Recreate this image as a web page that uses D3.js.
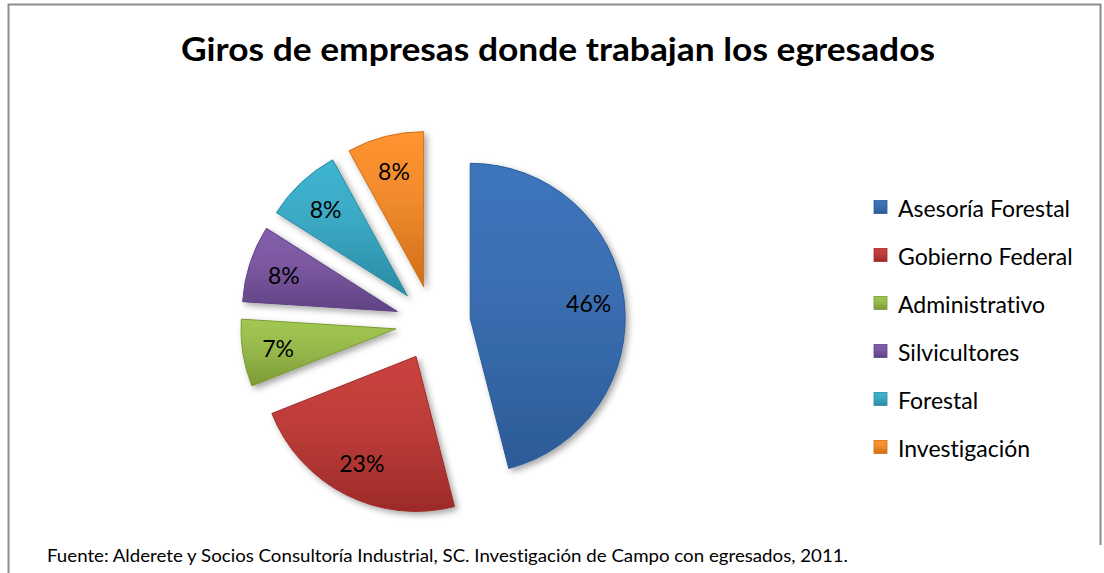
<!DOCTYPE html>
<html>
<head>
<meta charset="utf-8">
<script src="https://cdn.jsdelivr.net/npm/d3@7"></script>
<style>
  html, body { margin: 0; padding: 0; background: #fff; }
  svg { display: block; }
  text { font-variant-ligatures: none; font-feature-settings: "liga" 0, "clig" 0; }
</style>
</head>
<body>
<div id="chart"></div>
<script>
// Datos del gráfico
const categories = ["Asesoría Forestal", "Gobierno Federal", "Administrativo", "Silvicultores", "Forestal", "Investigación"];
const values = [46, 23, 7, 8, 8, 8];
const labels = ["46%", "23%", "7%", "8%", "8%", "8%"];
const colors = ["#3a6db0", "#bd3d39", "#97b94c", "#7b58a0", "#3ba9c4", "#f08a2d"];
const darkColors = ["#2c5b97", "#9c2b28", "#7b9a35", "#5f4284", "#2a8aa3", "#d06f18"];

const title = "Giros de empresas donde trabajan los egresados";
const source = "Fuente: Alderete y Socios Consultoría Industrial, SC. Investigación de Campo con egresados, 2011.";

const width = 1104;
const height = 573;
const radius = 155;
const explode = 37.5;
const cx = 433, cy = 323;

const svg = d3.select("#chart")
    .append("svg")
    .attr("width", width)
    .attr("height", height);

const defs = svg.append("defs");

// sombra suave
const shadow = defs.append("filter")
    .attr("id", "shadow")
    .attr("x", "-20%").attr("y", "-20%")
    .attr("width", "140%").attr("height", "140%");
shadow.append("feDropShadow")
    .attr("dx", 3).attr("dy", 3)
    .attr("stdDeviation", 3)
    .attr("flood-color", "#000")
    .attr("flood-opacity", 0.35);

// degradados de cada sector
colors.forEach((c, i) => {
    const g = defs.append("linearGradient")
        .attr("id", "grad" + i)
        .attr("x1", 0).attr("y1", 0)
        .attr("x2", 0).attr("y2", 1);
    g.append("stop").attr("offset", "0%").attr("stop-color", d3.color(c).brighter(0.2));
    g.append("stop").attr("offset", "45%").attr("stop-color", c);
    g.append("stop").attr("offset", "100%").attr("stop-color", darkColors[i]);
});

// marco
svg.append("path")
    .attr("d", `M8.5,${height} V4.5 H1100.5 V545`)
    .attr("fill", "none")
    .attr("stroke", "#8c8c8c")
    .attr("stroke-width", 2);

// título
svg.append("text")
    .attr("x", 558)
    .attr("y", 61)
    .attr("text-anchor", "middle")
    .attr("font-family", "Lato, 'Open Sans', sans-serif")
    .attr("font-weight", "bold")
    .attr("font-size", 33)
    .attr("textLength", 754)
    .attr("lengthAdjust", "spacingAndGlyphs")
    .attr("fill", "#000")
    .text(title);

// pastel
const pie = d3.pie().sort(null).value(d => d)(values);
const arc = d3.arc().innerRadius(0).outerRadius(radius);
const labelArc = d3.arc().innerRadius(radius * 0.77).outerRadius(radius * 0.77);

const slices = svg.append("g")
    .attr("transform", `translate(${cx},${cy})`)
    .selectAll("g")
    .data(pie)
    .join("g")
    .attr("transform", d => {
        const mid = (d.startAngle + d.endAngle) / 2;
        return `translate(${explode * Math.sin(mid)},${-explode * Math.cos(mid)})`;
    });

slices.append("path")
    .attr("d", arc)
    .attr("fill", (d, i) => `url(#grad${i})`)
    .attr("stroke", (d, i) => darkColors[i])
    .attr("stroke-width", 1)
    .attr("stroke-linejoin", "round")
    .attr("filter", "url(#shadow)");

slices.append("text")
    .attr("transform", d => `translate(${labelArc.centroid(d)})`)
    .attr("text-anchor", "middle")
    .attr("dominant-baseline", "central")
    .attr("font-family", "Lato, 'Open Sans', sans-serif")
    .attr("font-size", 23)
    .attr("fill", "#000")
    .text((d, i) => labels[i]);

// leyenda
const legendY = d3.scalePoint().domain(categories).range([207, 447]);

const legend = svg.append("g")
    .selectAll("g")
    .data(categories)
    .join("g")
    .attr("transform", d => `translate(874,${legendY(d)})`);

legend.append("rect")
    .attr("x", 0)
    .attr("y", -6.5)
    .attr("width", 13)
    .attr("height", 13)
    .attr("fill", (d, i) => `url(#grad${i})`)
    .attr("stroke", (d, i) => darkColors[i])
    .attr("stroke-width", 0.8);

legend.append("text")
    .attr("x", 24)
    .attr("y", 1)
    .attr("dominant-baseline", "central")
    .attr("font-family", "Lato, 'Open Sans', sans-serif")
    .attr("font-size", 23)
    .attr("fill", "#000")
    .text(d => d);

// fuente
svg.append("text")
    .attr("x", 47)
    .attr("y", 562)
    .attr("font-family", "Lato, 'Open Sans', sans-serif")
    .attr("font-size", 16.5)
    .attr("textLength", 801)
    .attr("lengthAdjust", "spacingAndGlyphs")
    .attr("fill", "#000")
    .text(source);
</script>
</body>
</html>
